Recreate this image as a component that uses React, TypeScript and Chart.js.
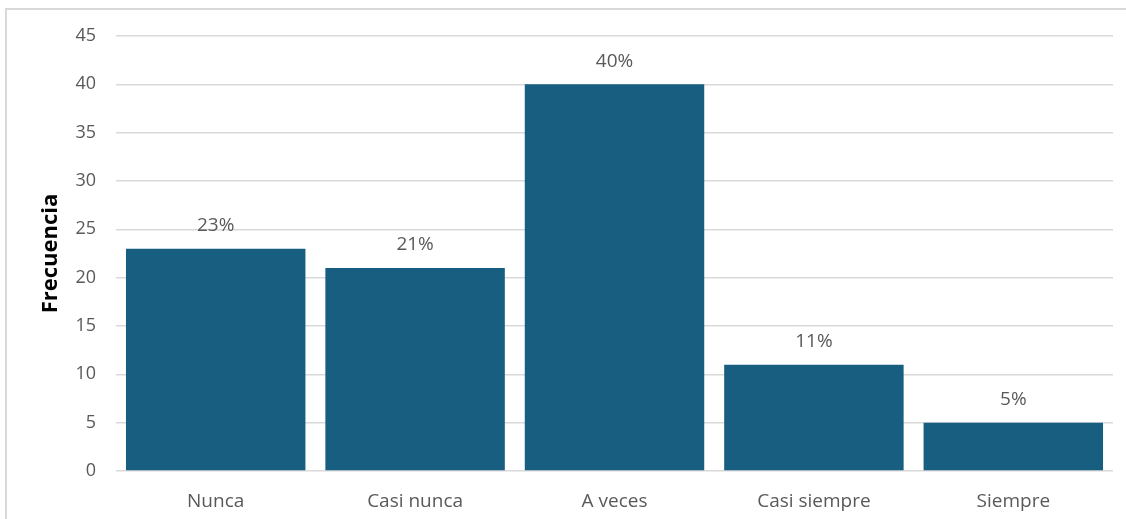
import React, { useEffect, useRef } from "react";
import { Chart, registerables } from "chart.js";

Chart.register(...registerables);

const categories = ["Nunca", "Casi nunca", "A veces", "Casi siempre", "Siempre"];
const frequencies = [23, 21, 40, 11, 5];
const percentLabels = ["23%", "21%", "40%", "11%", "5%"];
const yTitle = "Frecuencia";

const FONT = "'Open Sans', 'Liberation Sans', sans-serif";

const valueLabels = {
  id: "valueLabels",
  afterDatasetsDraw(chart: any) {
    const ctx = chart.ctx;
    const meta = chart.getDatasetMeta(0);
    ctx.save();
    ctx.fillStyle = "#595959";
    ctx.font = `19px ${FONT}`;
    ctx.textAlign = "center";
    ctx.textBaseline = "middle";
    meta.data.forEach((bar: any, i: number) => {
      ctx.fillText(percentLabels[i], bar.x, bar.y - 23);
    });
    ctx.restore();
  },
};

export default function App() {
  const ref = useRef<HTMLCanvasElement | null>(null);
  useEffect(() => {
    if (!ref.current) return;
    const chart = new Chart(ref.current, {
      type: "bar",
      data: {
        labels: categories,
        datasets: [
          {
            data: frequencies,
            backgroundColor: "#175E81",
            barPercentage: 0.9,
            categoryPercentage: 1,
          },
        ],
      },
      options: {
        animation: false,
        responsive: false,
        maintainAspectRatio: false,
        layout: { padding: { left: 0, top: 36, right: 13, bottom: 0 } },
        plugins: { legend: { display: false }, tooltip: { enabled: false } },
        scales: {
          x: {
            grid: { display: false },
            border: { display: false },
            ticks: { color: "#595959", font: { family: FONT, size: 19 }, padding: 11, maxRotation: 0 },
            afterFit(scale: any) {
              scale.height = 48;
            },
          },
          y: {
            min: 0,
            max: 45,
            ticks: { stepSize: 5, color: "#595959", font: { family: FONT, size: 18 }, padding: 20 },
            grid: { color: "#d9d9d9", lineWidth: 1.5, drawTicks: false },
            border: { display: false },
            title: {
              display: true,
              text: yTitle,
              color: "#000000",
              font: { family: FONT, size: 22, weight: "bold" },
              padding: { top: 38, bottom: 0 },
            },
            afterFit(scale: any) {
              scale.width = 116;
            },
          },
        },
      },
      plugins: [valueLabels],
    });
    return () => chart.destroy();
  }, []);
  return (
    <div style={{ position: "fixed", left: 0, top: 0, width: 1126, height: 519, background: "#fff", overflow: "hidden" }}>
      <div
        style={{
          position: "absolute",
          left: 5,
          top: 8,
          width: 1140,
          height: 540,
          border: "2px solid #d9d9d9",
          boxSizing: "border-box",
        }}
      />
      <canvas ref={ref} width={1126} height={519} style={{ position: "absolute", left: 0, top: 0 }} />
    </div>
  );
}
